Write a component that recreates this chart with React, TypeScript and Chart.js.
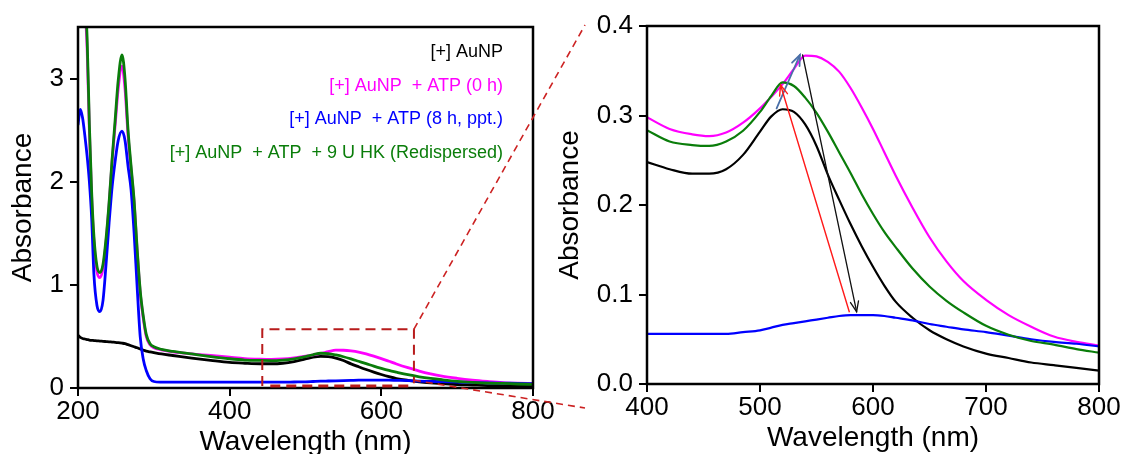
import React, { useEffect, useRef } from "react";
import { Chart, registerables } from "chart.js";

Chart.register(...registerables);

const FONT = "'Liberation Sans', Arial, Helvetica, sans-serif";

// ---------------- data ----------------
const wavelengths = [
  200, 203, 206, 209, 212, 215, 218, 221, 225, 229, 233, 237, 241, 245, 249, 253, 258, 262, 266, 270, 274, 278, 282, 286, 290, 295, 300,
  310, 325, 350, 375, 400, 420, 440, 455, 470, 485, 500, 510, 520, 530, 540, 550, 560, 570, 580, 590, 600, 610, 620, 635, 650, 665, 680, 700, 720, 740, 760, 780, 800,
];

// [+] AuNP (black)
const aunp = [
  0.51, 0.49, 0.48, 0.475, 0.47, 0.465, 0.462, 0.46, 0.457, 0.455, 0.452, 0.45, 0.448, 0.445, 0.443, 0.44, 0.435, 0.43, 0.42, 0.41, 0.4, 0.39, 0.378, 0.367, 0.358, 0.35, 0.343,
  0.33, 0.315, 0.29, 0.268, 0.248, 0.24, 0.235, 0.235, 0.24, 0.256, 0.282, 0.299, 0.307, 0.304, 0.29, 0.266, 0.234, 0.206, 0.179, 0.154, 0.131, 0.11, 0.092, 0.074, 0.06, 0.05, 0.042, 0.034, 0.029, 0.024, 0.021, 0.018, 0.015,
];

// [+] AuNP + ATP (0 h) (magenta)
const atp0h = [
  4.8, 4.4, 4.0, 3.7, 3.3, 2.5, 1.85, 1.42, 1.13, 1.07, 1.16, 1.42, 1.78, 2.2, 2.55, 2.9, 3.12, 2.9, 2.45, 2.12, 1.8, 1.33, 0.93, 0.68, 0.5, 0.42, 0.39,
  0.37, 0.35, 0.33, 0.315, 0.298, 0.285, 0.279, 0.277, 0.281, 0.292, 0.308, 0.321, 0.335, 0.352, 0.367, 0.366, 0.36, 0.349, 0.331, 0.309, 0.285, 0.259, 0.233, 0.197, 0.164, 0.137, 0.115, 0.094, 0.077, 0.064, 0.053, 0.047, 0.043,
];

// [+] AuNP + ATP (8 h, ppt.) (blue)
const atp8h = [
  2.55, 2.7, 2.62, 2.45, 2.25, 2.0, 1.65, 1.1, 0.8, 0.74, 0.85, 1.2, 1.6, 1.95, 2.2, 2.4, 2.49, 2.4, 2.15, 1.92, 1.5, 0.98, 0.5, 0.28, 0.17, 0.09, 0.063,
  0.057, 0.056, 0.056, 0.056, 0.056, 0.056, 0.056, 0.056, 0.056, 0.058, 0.06, 0.063, 0.066, 0.068, 0.07, 0.072, 0.074, 0.076, 0.077, 0.077, 0.077, 0.076, 0.074, 0.071, 0.067, 0.064, 0.061, 0.058, 0.054, 0.05, 0.047, 0.045, 0.042,
];

// [+] AuNP + ATP + 9 U HK (Redispersed) (green)
const redispersed = [
  5.0, 4.6, 4.2, 3.8, 3.4, 2.55, 1.9, 1.47, 1.18, 1.12, 1.2, 1.45, 1.8, 2.22, 2.6, 2.98, 3.23, 3.0, 2.5, 2.15, 1.82, 1.35, 0.95, 0.7, 0.52, 0.43, 0.4,
  0.375, 0.355, 0.33, 0.305, 0.2835, 0.271, 0.267, 0.266, 0.271, 0.283, 0.304, 0.322, 0.337, 0.333, 0.32, 0.303, 0.282, 0.259, 0.236, 0.212, 0.19, 0.17, 0.153, 0.129, 0.109, 0.093, 0.08, 0.065, 0.055, 0.048, 0.044, 0.039, 0.035,
];

const seriesLabels = [
  "[+] AuNP",
  "[+] AuNP  + ATP (0 h)",
  "[+] AuNP  + ATP (8 h, ppt.)",
  "[+] AuNP  + ATP  + 9 U HK (Redispersed)",
];
const seriesValues = [aunp, atp0h, atp8h, redispersed];
const seriesColors = ["#000000", "#ff00ff", "#0000ff", "#0a7d0a"];
const drawOrder = [3, 2, 1, 0]; // first drawn on top

const leftXTicks = [200, 400, 600, 800];
const leftYTicks = [0, 1, 2, 3];
const rightXTicks = [400, 500, 600, 700, 800];
const rightYTicks = [0, 0.1, 0.2, 0.3, 0.4];

// zoom box (data units on left panel)
const zoomBoxX = [443, 643];
const zoomBoxY = [0, 0.57];
const zoomLowerStart = 0.075;

// arrows on right panel (data units)
const arrowFromX = [514.7, 537.7, 579];
const arrowFromY = [0.308, 0.3676, 0.0808];
const arrowToX = [535.3, 585.5, 518.2];
const arrowToY = [0.3676, 0.0808, 0.334];
const arrowColors = ["#4a6fa8", "#111111", "#ff1a1a"];
const arrowWidths = [1.8, 1.3, 1.4];

// ---------------- helpers ----------------
function makeDatasets(minX: number, width: number) {
  return drawOrder.map((i) => ({
    label: seriesLabels[i],
    data: wavelengths
      .map((w, j) => ({ x: w, y: seriesValues[i][j] }))
      .filter((p) => p.x >= minX),
    borderColor: seriesColors[i],
    backgroundColor: seriesColors[i],
    borderWidth: width,
    pointRadius: 0,
    cubicInterpolationMode: "monotone" as const,
    fill: false,
  }));
}

function makeAxis(opts: {
  min: number;
  max: number;
  ticks: number[];
  isX: boolean;
  size: number;
  fmt: (v: number) => string;
  title: string;
  titlePad: any;
  titleLH: number;
  tickPad: number;
}) {
  return {
    type: "linear" as const,
    min: opts.min,
    max: opts.max,
    afterBuildTicks: (s: any) => {
      s.ticks = opts.ticks.map((v) => ({ value: v }));
    },
    afterFit: (s: any) => {
      if (opts.isX) s.height = opts.size;
      else s.width = opts.size;
    },
    grid: {
      display: true,
      drawOnChartArea: false,
      drawTicks: true,
      tickLength: 8,
      color: "#000",
      lineWidth: 2,
    },
    border: { display: false },
    ticks: {
      font: { family: FONT, size: 26 },
      color: "#000",
      padding: opts.tickPad,
      autoSkip: false,
      maxRotation: 0,
      minRotation: 0,
      callback: (v: any) => opts.fmt(Number(v)),
    },
    title: {
      display: true,
      text: opts.title,
      color: "#000",
      font: { family: FONT, size: 28, lineHeight: opts.titleLH },
      padding: opts.titlePad,
    },
  };
}

const framePlugin = {
  id: "frame",
  afterDatasetsDraw(chart: any) {
    const { ctx, chartArea } = chart;
    ctx.save();
    ctx.strokeStyle = "#000";
    ctx.lineWidth = 2.5;
    ctx.setLineDash([]);
    ctx.strokeRect(chartArea.left, chartArea.top, chartArea.right - chartArea.left, chartArea.bottom - chartArea.top);
    ctx.restore();
  },
};

const zoomPlugin = {
  id: "zoomBox",
  afterDatasetsDraw(chart: any) {
    const { ctx, chartArea, scales } = chart;
    const x = scales.x;
    const y = scales.y;
    const x1 = x.getPixelForValue(zoomBoxX[0]);
    const x2 = x.getPixelForValue(zoomBoxX[1]);
    const yTop = y.getPixelForValue(zoomBoxY[1]);
    const yBot = y.getPixelForValue(zoomBoxY[0]);
    ctx.save();
    ctx.strokeStyle = "#b81c1c";
    ctx.lineWidth = 2;
    ctx.setLineDash([10, 6]);
    ctx.beginPath();
    ctx.moveTo(x1, yBot - 2);
    ctx.lineTo(x1, yTop);
    ctx.lineTo(x2, yTop);
    ctx.lineTo(x2, y.getPixelForValue(zoomLowerStart) + 3);
    ctx.stroke();
    ctx.lineWidth = 3;
    ctx.beginPath();
    ctx.moveTo(x1 + 8, yBot - 2);
    ctx.lineTo(x2 - 4, yBot - 2);
    ctx.stroke();
    // connectors
    ctx.strokeStyle = "#cc2222";
    ctx.lineWidth = 1.6;
    ctx.setLineDash([7, 5]);
    ctx.beginPath();
    ctx.moveTo(x2, yTop);
    ctx.lineTo(chartArea.right + 52, chartArea.top - 2);
    ctx.stroke();
    ctx.beginPath();
    ctx.moveTo(x2, y.getPixelForValue(zoomLowerStart));
    ctx.lineTo(chartArea.right + 52, chartArea.bottom + 20);
    ctx.stroke();
    ctx.restore();
  },
  afterDraw(chart: any) {
    const { ctx, chartArea } = chart;
    ctx.save();
    ctx.font = `18px ${FONT}`;
    ctx.textAlign = "right";
    ctx.textBaseline = "middle";
    seriesLabels.forEach((t, i) => {
      ctx.fillStyle = seriesColors[i];
      ctx.fillText(t, chartArea.right - 30, chartArea.top + 25 + i * 33.7);
    });
    ctx.restore();
  },
};

function drawArrow(ctx: any, x1: number, y1: number, x2: number, y2: number, color: string, lw: number) {
  const ang = Math.atan2(y2 - y1, x2 - x1);
  const head = 11;
  ctx.strokeStyle = color;
  ctx.lineWidth = lw;
  ctx.setLineDash([]);
  ctx.beginPath();
  ctx.moveTo(x1, y1);
  ctx.lineTo(x2, y2);
  ctx.stroke();
  ctx.beginPath();
  ctx.moveTo(x2 - head * Math.cos(ang - 0.38), y2 - head * Math.sin(ang - 0.38));
  ctx.lineTo(x2, y2);
  ctx.lineTo(x2 - head * Math.cos(ang + 0.38), y2 - head * Math.sin(ang + 0.38));
  ctx.stroke();
}

const arrowPlugin = {
  id: "arrows",
  afterDatasetsDraw(chart: any) {
    const { ctx, scales } = chart;
    ctx.save();
    ctx.lineCap = "round";
    arrowFromX.forEach((_, i) => {
      drawArrow(
        ctx,
        scales.x.getPixelForValue(arrowFromX[i]),
        scales.y.getPixelForValue(arrowFromY[i]),
        scales.x.getPixelForValue(arrowToX[i]),
        scales.y.getPixelForValue(arrowToY[i]),
        arrowColors[i],
        arrowWidths[i]
      );
    });
    ctx.restore();
  },
};

export default function App() {
  const leftRef = useRef<HTMLCanvasElement | null>(null);
  const rightRef = useRef<HTMLCanvasElement | null>(null);

  useEffect(() => {
    const common = {
      responsive: false,
      maintainAspectRatio: false,
      devicePixelRatio: 1,
      animation: false as const,
      events: [] as any[],
      plugins: { legend: { display: false }, tooltip: { enabled: false } },
    };

    const left = new Chart(leftRef.current as HTMLCanvasElement, {
      type: "line",
      data: { datasets: makeDatasets(0, 2.8) as any },
      options: {
        ...common,
        layout: { padding: { left: 0, right: 57, top: 27, bottom: 0 } },
        scales: {
          x: makeAxis({
            min: 200, max: 800, ticks: leftXTicks, isX: true, size: 66,
            fmt: (v) => String(v), title: "Wavelength (nm)",
            titlePad: { top: 0, bottom: 0 }, titleLH: 0.84, tickPad: 0,
          }),
          y: makeAxis({
            min: 0, max: 3.5, ticks: leftYTicks, isX: false, size: 78,
            fmt: (v) => String(v), title: "Absorbance",
            titlePad: { top: 6, bottom: 0 }, titleLH: 1.2, tickPad: 6,
          }),
        },
      } as any,
      plugins: [framePlugin, zoomPlugin],
    });

    const right = new Chart(rightRef.current as HTMLCanvasElement, {
      type: "line",
      data: { datasets: makeDatasets(400, 2.2) as any },
      options: {
        ...common,
        layout: { padding: { left: 0, right: 24, top: 26, bottom: 0 } },
        scales: {
          x: makeAxis({
            min: 400, max: 800, ticks: rightXTicks, isX: true, size: 70,
            fmt: (v) => String(v), title: "Wavelength (nm)",
            titlePad: { top: 0, bottom: 4 }, titleLH: 0.84, tickPad: 0,
          }),
          y: makeAxis({
            min: 0, max: 0.4, ticks: rightYTicks, isX: false, size: 102,
            fmt: (v) => v.toFixed(1), title: "Absorbance",
            titlePad: { top: 8, bottom: 0 }, titleLH: 1.2, tickPad: 6,
          }),
        },
      } as any,
      plugins: [framePlugin, arrowPlugin],
    });

    return () => {
      left.destroy();
      right.destroy();
    };
  }, []);

  return (
    <div style={{ position: "absolute", left: 0, top: 0, width: 1123, height: 454, background: "#fff", overflow: "hidden" }}>
      <canvas
        ref={leftRef}
        width={590}
        height={454}
        style={{ position: "absolute", left: 0, top: 0, width: 590, height: 454 }}
      />
      <canvas
        ref={rightRef}
        width={578}
        height={454}
        style={{ position: "absolute", left: 545, top: 0, width: 578, height: 454 }}
      />
    </div>
  );
}
